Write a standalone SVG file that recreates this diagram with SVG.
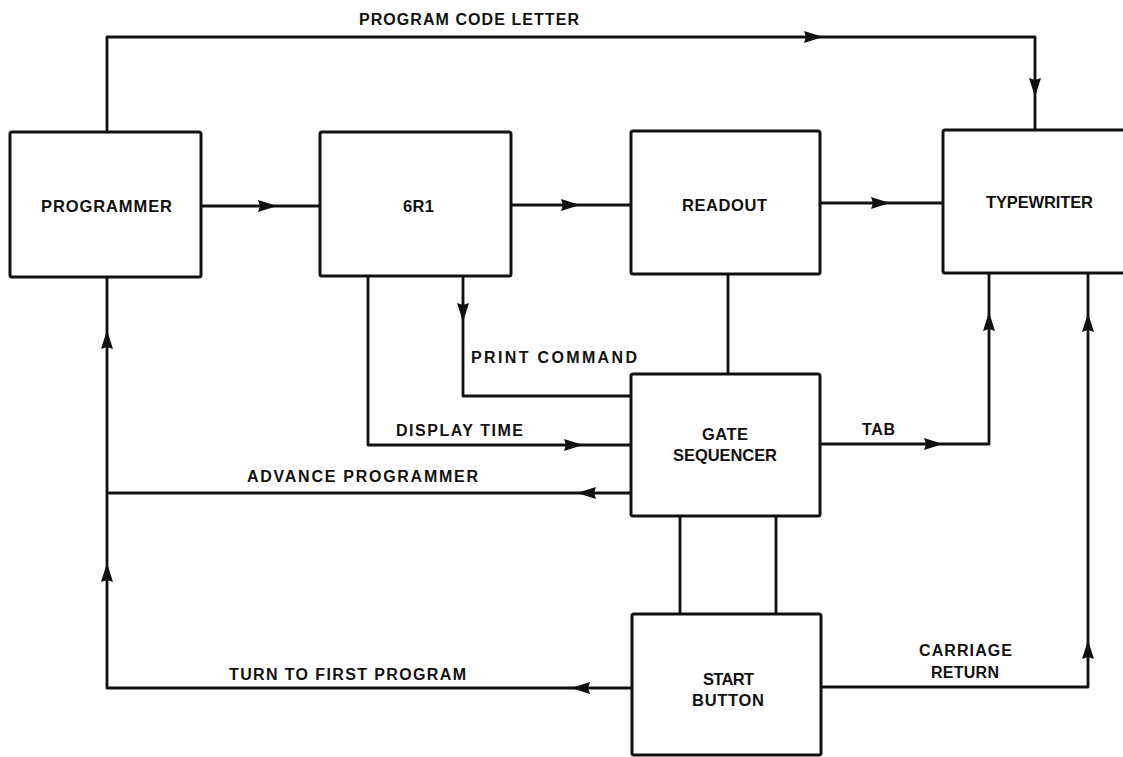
<svg xmlns="http://www.w3.org/2000/svg" xmlns:xlink="http://www.w3.org/1999/xlink" width="1123" height="757" viewBox="0 0 1123 757">
<style>
.box{fill:#fff;stroke:#111;stroke-width:3;}
.ln{fill:none;stroke:#111;stroke-width:2.8;stroke-linejoin:round;}
.ah{fill:#111;}
text{font-family:"Liberation Sans",Arial,sans-serif;font-weight:bold;fill:#111;}
.nl{font-size:16.5px;}
.el{font-size:16px;}
</style>
<defs>
<path id="ah" d="M0,0 L-19,-6 L-17,0 L-19,6 Z"/>
</defs>
<rect width="1123" height="757" fill="#fff"/>
<g id="connectors">
<path class="ln" d="M107,132 V37 H1035 V130"/>
<path class="ln" d="M201,206 H320"/>
<path class="ln" d="M511,205 H631"/>
<path class="ln" d="M820,203 H943"/>
<path class="ln" d="M463,276 V396 H631"/>
<path class="ln" d="M368,276 V445 H631"/>
<path class="ln" d="M728,274 V374"/>
<path class="ln" d="M631,493 H107"/>
<path class="ln" d="M631,688 H107 V277"/>
<path class="ln" d="M820,444 H989 V273"/>
<path class="ln" d="M821,687 H1088 V273"/>
<path class="ln" d="M680,516 V614"/>
<path class="ln" d="M776,516 V614"/>
<g class="ah">
<use xlink:href="#ah" transform="translate(823,37)"/>
<use xlink:href="#ah" transform="translate(1035,97) rotate(90)"/>
<use xlink:href="#ah" transform="translate(277,206)"/>
<use xlink:href="#ah" transform="translate(580,205)"/>
<use xlink:href="#ah" transform="translate(890,203)"/>
<use xlink:href="#ah" transform="translate(463,322) rotate(90)"/>
<use xlink:href="#ah" transform="translate(583,445)"/>
<use xlink:href="#ah" transform="translate(577,493) rotate(180)"/>
<use xlink:href="#ah" transform="translate(107,330) rotate(-90)"/>
<use xlink:href="#ah" transform="translate(107,563) rotate(-90)"/>
<use xlink:href="#ah" transform="translate(943,444)"/>
<use xlink:href="#ah" transform="translate(989,312) rotate(-90)"/>
<use xlink:href="#ah" transform="translate(1088,313) rotate(-90)"/>
<use xlink:href="#ah" transform="translate(1088,640) rotate(-90)"/>
<use xlink:href="#ah" transform="translate(571,688) rotate(180)"/>
</g>
<g id="edge-labels" class="el">
<text x="359" y="25" textLength="220" lengthAdjust="spacing">PROGRAM CODE LETTER</text>
<text x="471" y="363" textLength="166" lengthAdjust="spacing">PRINT COMMAND</text>
<text x="396" y="436" textLength="127" lengthAdjust="spacing">DISPLAY TIME</text>
<text x="247" y="482" textLength="231" lengthAdjust="spacing">ADVANCE PROGRAMMER</text>
<text x="862" y="435" textLength="33" lengthAdjust="spacing">TAB</text>
<text x="229" y="680" textLength="237" lengthAdjust="spacing">TURN TO FIRST PROGRAM</text>
<text x="919" y="656" textLength="93" lengthAdjust="spacing">CARRIAGE</text>
<text x="931" y="678" textLength="68" lengthAdjust="spacing">RETURN</text>
</g>
</g>
<g id="programmer">
<rect class="box" x="10" y="132" width="191" height="145" rx="2"/>
<text class="nl" x="41" y="212" textLength="131" lengthAdjust="spacing">PROGRAMMER</text>
</g>
<g id="n6r1">
<rect class="box" x="320" y="132" width="191" height="144" rx="2"/>
<text class="nl" x="403" y="212" textLength="31" lengthAdjust="spacing">6R1</text>
</g>
<g id="readout">
<rect class="box" x="631" y="131" width="189" height="143" rx="2"/>
<text class="nl" x="682" y="211" textLength="85" lengthAdjust="spacing">READOUT</text>
</g>
<g id="typewriter">
<rect class="box" x="943" y="130" width="190" height="143" rx="2"/>
<text class="nl" x="986" y="208" textLength="107" lengthAdjust="spacing">TYPEWRITER</text>
</g>
<g id="gate-sequencer">
<rect class="box" x="631" y="374" width="189" height="142" rx="2"/>
<text class="nl" x="702" y="440" textLength="46" lengthAdjust="spacing">GATE</text>
<text class="nl" x="673" y="461" textLength="104" lengthAdjust="spacing">SEQUENCER</text>
</g>
<g id="start-button">
<rect class="box" x="632" y="614" width="189" height="141" rx="2"/>
<text class="nl" x="703" y="685" textLength="51" lengthAdjust="spacing">START</text>
<text class="nl" x="692" y="706" textLength="72" lengthAdjust="spacing">BUTTON</text>
</g>
</svg>
